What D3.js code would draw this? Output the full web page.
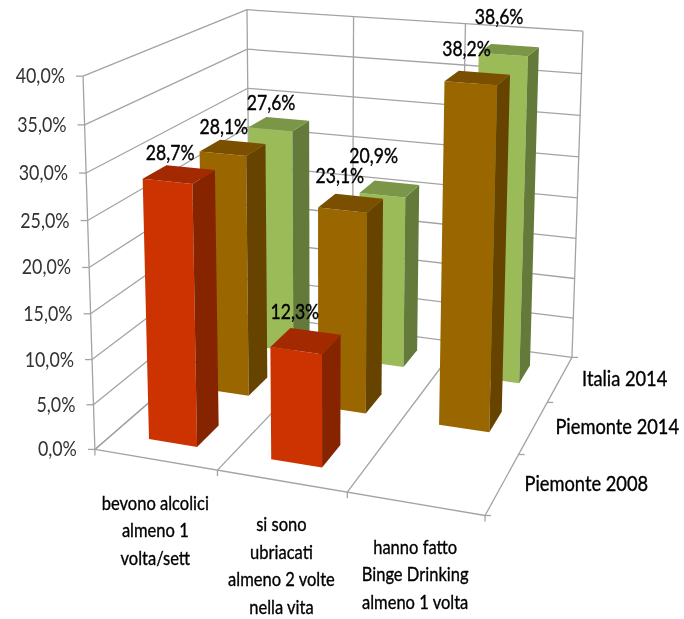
<!DOCTYPE html>
<html><head><meta charset="utf-8">
<script src="https://cdn.jsdelivr.net/npm/d3@7"></script>
<style>html,body{margin:0;background:#fff}svg{display:block;filter:blur(0.5px)}text{font-family:Lato,"Open Sans",sans-serif}</style>
</head><body><svg id="c" width="684" height="619"></svg>
<script>
const categories=[["bevono alcolici","almeno 1","volta/sett"],["si sono","ubriacati","almeno 2 volte","nella vita"],["hanno fatto","Binge Drinking","almeno 1 volta"]];
const seriesNames=["Piemonte 2008","Piemonte 2014","Italia 2014"];
const piemonte2008=[28.7,12.3,null];
const piemonte2014=[28.1,23.1,38.2];
const italia2014=[27.6,20.9,38.6];
const yTicks=[0,5,10,15,20,25,30,35,40];
const seriesValues=[piemonte2008,piemonte2014,italia2014];
const faceColors=[["#CC3300","#862400","#A32900"],["#996600","#664400","#7A5000"],["#9BBB59","#647A3A","#7C9647"]];
// label nudges [dx,dy] from the projected centre of the bar top, by series then category
const labelNudge=[[[-9,-21],[-11,-29],null],[[-9,-21],[-11,-27],[-11,-29]],[[-8,-21],[-16,-33],[-10,-33]]];

const fmt=v=>v.toFixed(1).replace(".",",")+"%";
const xS=d3.scaleLinear().domain([0,categories.length]).range([0,1]);
const zS=d3.scaleLinear().domain([0,seriesNames.length]).range([0,1]);
const yS=d3.scaleLinear().domain([0,40]).range([0,1]);

// fit a projective camera to the chart-box corners seen in the picture
const box=[[0,0,0,95,450],[0,1,0,83,76],[0,0,1,250,314],[0,1,1,247,10],[1,0,1,572,358],[1,1,1,583,31],[1,0,0,485,515]];
function fit(pts){
  const A=[],b=[];
  pts.forEach(([X,Y,Z,u,v])=>{
    A.push([X,Y,Z,1,0,0,0,0,-u*X,-u*Y,-u*Z]);b.push(u);
    A.push([0,0,0,0,X,Y,Z,1,-v*X,-v*Y,-v*Z]);b.push(v);
  });
  const n=11,M=d3.range(n).map(i=>d3.range(n+1).map(j=>{
    let s=0;A.forEach((r,k)=>{s+=r[i]*(j<n?r[j]:b[k]);});return s;}));
  for(let i=0;i<n;i++){
    let p=i;for(let r=i+1;r<n;r++)if(Math.abs(M[r][i])>Math.abs(M[p][i]))p=r;
    [M[i],M[p]]=[M[p],M[i]];
    for(let r=0;r<n;r++){if(r===i)continue;const f=M[r][i]/M[i][i];for(let c=i;c<=n;c++)M[r][c]-=f*M[i][c];}
  }
  return d3.range(n).map(i=>M[i][n]/M[i][i]);
}
const P=fit(box);
function proj(x,y,z){const w=P[8]*x+P[9]*y+P[10]*z+1;return [(P[0]*x+P[1]*y+P[2]*z+P[3])/w,(P[4]*x+P[5]*y+P[6]*z+P[7])/w];}
const pt=(c,v,s)=>proj(xS(c),yS(v),zS(s));

const svg=d3.select("#c");
const line=d3.line();
// narrow text helper: the original face is narrower than any installed one
function label(x,y,str,size,sx,anchor,heavy,fill){
  return svg.append("text").attr("transform",`translate(${x},${y}) scale(${sx},1)`)
    .attr("text-anchor",anchor).attr("font-size",size).attr("fill",fill)
    .attr("stroke",fill).attr("stroke-width",heavy).text(str);
}
const grid=svg.append("g").attr("fill","none").attr("stroke","#a3a3a3").attr("stroke-width",1.3);
const seg=(a,b)=>grid.append("path").attr("d",line([a,b]));
const nC=categories.length,nS=seriesNames.length;
yTicks.forEach(t=>{
  seg(pt(0,t,0),pt(0,t,nS));
  seg(pt(0,t,nS),pt(nC,t,nS));
  const p=pt(0,t,0);
  seg([p[0]-7,p[1]],p);
  label(p[0]-18,p[1]+7,fmt(t),20.5,.87,"end",0,"#333");
});
d3.range(nC+1).forEach(c=>{
  seg(pt(c,0,nS),pt(c,40,nS));
  seg(pt(c,0,0),pt(c,0,nS));
  const p=pt(c,0,0);
  seg(p,[p[0],p[1]+6]);
});
seg(pt(0,0,0),pt(0,40,0));
seg(pt(0,0,0),pt(nC,0,0));
d3.range(nS+1).forEach(s=>{const p=pt(nC,0,s);seg(p,[p[0]+6,p[1]]);});

// bars: back rows first, left to right
const gapW=0.3;
const bars=svg.append("g");
d3.range(nS-1,-1,-1).forEach(s=>{
  d3.range(nC).forEach(c=>{
    const v=seriesValues[s][c];
    if(v==null)return;
    const c0=c+gapW,c1=c+1-gapW,s0=s+gapW,s1=s+1-gapW;
    const col=faceColors[s];
    const poly=(pts,fill)=>bars.append("path").attr("d",line(pts)+"Z").attr("fill",fill);
    poly([pt(c0,0,s0),pt(c1,0,s0),pt(c1,v,s0),pt(c0,v,s0)],col[0]);
    poly([pt(c1,0,s0),pt(c1,0,s1),pt(c1,v,s1),pt(c1,v,s0)],col[1]);
    poly([pt(c0,v,s0),pt(c1,v,s0),pt(c1,v,s1),pt(c0,v,s1)],col[2]);
  });
});
// value labels
seriesValues.forEach((vals,s)=>vals.forEach((v,c)=>{
  if(v==null)return;
  const p=pt(c+.5,v,s+.5),n=labelNudge[s][c];
  label(p[0]+n[0],p[1]+n[1]+7,fmt(v),22,.8,"middle",.4,"#000");
}));
// category labels
categories.forEach((lines,c)=>{
  const p=pt(c+.5,0,0);
  lines.forEach((l,i)=>label(p[0],p[1]+50+i*27.5,l,19,.87,"middle",.35,"#000"));
});
// series labels
seriesNames.forEach((n,s)=>{
  const p=pt(nC,0,s+.5);
  label(p[0]+22,p[1]+7,n,21,.87,"start",.35,"#000");
});
</script></body></html>
